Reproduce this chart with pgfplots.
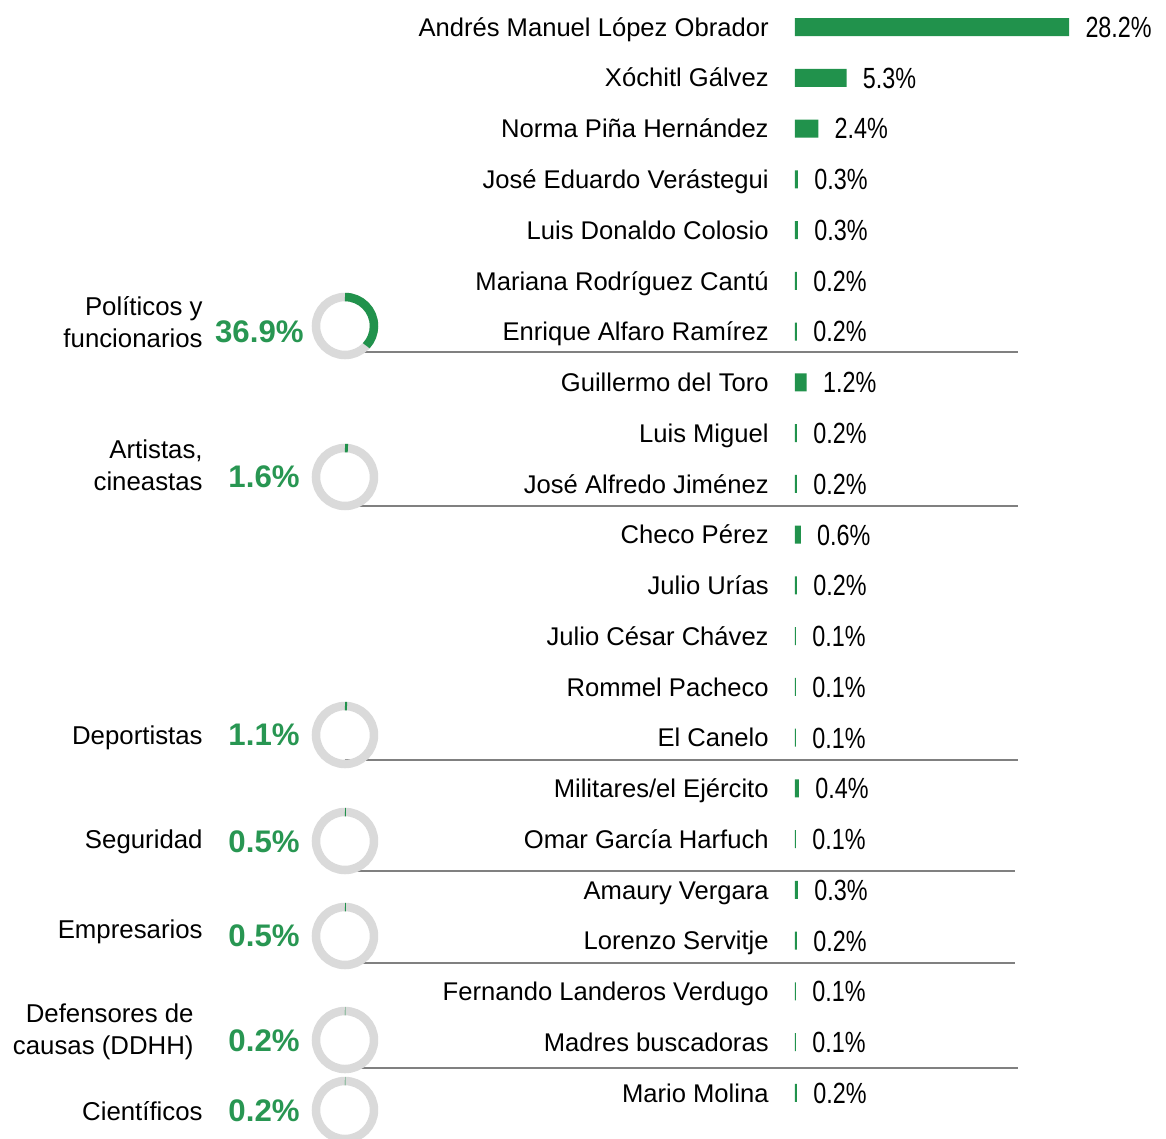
\documentclass[border=0pt]{standalone}
\usepackage{fontspec}
\setmainfont{Liberation Sans}
\newfontfamily\narrow[FakeStretch=0.8]{Liberation Sans}
\usepackage{pgfplots}
\usepackage{pgfplotstable}
\pgfplotsset{compat=1.18}
\definecolor{barg}{RGB}{33,146,76}
\definecolor{pctg}{RGB}{40,150,82}
\definecolor{ring}{RGB}{218,218,218}
\definecolor{sep}{RGB}{128,128,128}
\newcommand{\PX}[1]{((#1)-795)/9.72}
\newcommand{\PY}[1]{((#1)-27)/50.76}
\pgfplotstableread[col sep=comma]{
i,name,v
0,Andrés Manuel López Obrador,28.2
1,Xóchitl Gálvez,5.3
2,Norma Piña Hernández,2.4
3,José Eduardo Verástegui,0.3
4,Luis Donaldo Colosio,0.3
5,Mariana Rodríguez Cantú,0.2
6,Enrique Alfaro Ramírez,0.2
7,Guillermo del Toro,1.2
8,Luis Miguel,0.2
9,José Alfredo Jiménez,0.2
10,Checo Pérez,0.6
11,Julio Urías,0.2
12,Julio César Chávez,0.1
13,Rommel Pacheco,0.1
14,El Canelo,0.1
15,Militares/el Ejército,0.4
16,Omar García Harfuch,0.1
17,Amaury Vergara,0.3
18,Lorenzo Servitje,0.2
19,Fernando Landeros Verdugo,0.1
20,Madres buscadoras,0.1
21,Mario Molina,0.2
}\data
\newcommand{\donut}[2]{%
  \draw[ring, line width=4.25pt] (axis cs:{\PX{345}},{\PY{#1}}) circle[radius=14.5pt];
  \draw[barg, line width=4.25pt] (axis cs:{\PX{345}},{\PY{#1}}) ++(90:14.5pt) arc[start angle=90, end angle={90-3.6*#2}, radius=14.5pt];
}
\newcommand{\sepline}[2]{%
  \draw[sep, line width=0.6pt] (axis cs:{\PX{345}},{\PY{#1}}) -- (axis cs:{\PX{#2}},{\PY{#1}});
}
\newcommand{\cat}[3]{%
  \node[anchor=east, align=right, inner sep=0pt, font=\fontsize{12.9}{16}\selectfont] at (axis cs:{\PX{#1}},{\PY{#2}}) {#3};
}
\newcommand{\pct}[3]{%
  \node[anchor=east, inner sep=0pt, text=pctg, font=\fontsize{15.6}{18}\selectfont\bfseries] at (axis cs:{\PX{#1}},{\PY{#2}}) {#3};
}
\begin{document}
\begin{tikzpicture}
\begin{axis}[
  scale only axis, width=583pt, height=569.5pt,
  xmin=-81.79, xmax=38.17, ymin=-0.532, ymax=21.907,
  y dir=reverse, clip=false,
  /pgf/number format/assume math mode=true,
  axis line style={draw=none},
  xtick=\empty, ytick={0,...,21},
  yticklabels from table={\data}{name},
  major tick length=0pt,
  yticklabel style={anchor=base east, inner sep=0pt, xshift=384.5pt, yshift=-4.6pt, font=\fontsize{12.8}{15}\selectfont},
  xbar, bar width=9pt,
  nodes near coords={\pgfmathprintnumber[fixed,fixed zerofill,precision=1,assume math mode=true]{\pgfplotspointmeta}\%},
  nodes near coords style={anchor=base west, inner sep=0pt, xshift=8pt, yshift=-5.2pt, font=\narrow\fontsize{14.6}{17}\selectfont, text=black},
]
\addplot[fill=barg, draw=none] table[x=v, y=i] {\data};
\sepline{352}{1018}
\sepline{506}{1018}
\sepline{760}{1018}
\sepline{871}{1015}
\sepline{963}{1015}
\sepline{1068}{1018}
\donut{326}{36.9}
\donut{477}{1.6}
\donut{735}{1.1}
\donut{841}{0.5}
\donut{936}{0.5}
\donut{1040}{0.2}
\donut{1110}{0.2}
\cat{203}{322}{Políticos y\\funcionarios}
\cat{203}{465}{Artistas,\\cineastas}
\cat{203}{738}{Deportistas}
\cat{203}{842}{Seguridad}
\cat{203}{932}{Empresarios}
\cat{194}{1032}{Defensores de\\causas (DDHH)}
\cat{203}{1111}{Científicos}
\pct{304}{332}{36.9\%}
\pct{300}{477}{1.6\%}
\pct{300}{735}{1.1\%}
\pct{300}{842}{0.5\%}
\pct{300}{936}{0.5\%}
\pct{300}{1041}{0.2\%}
\pct{300}{1111}{0.2\%}
\end{axis}
\pgfresetboundingbox
\path[use as bounding box] (current axis.south west) rectangle (current axis.north east);
\end{tikzpicture}
\end{document}
